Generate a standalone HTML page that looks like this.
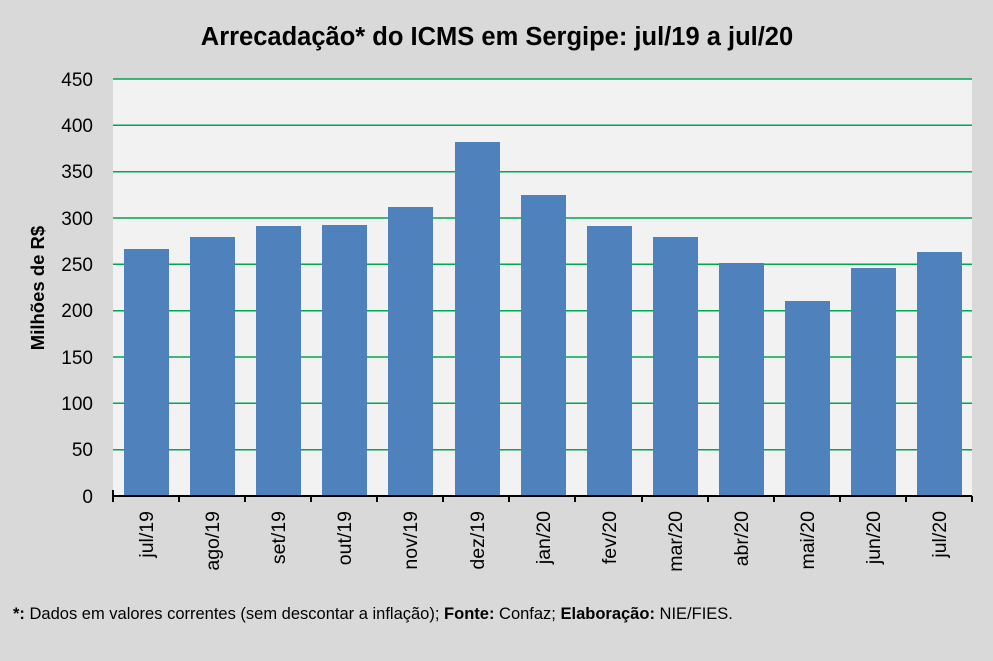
<!DOCTYPE html>
<html><head><meta charset="utf-8"><style>
html,body{margin:0;padding:0;background:#d9d9d9}
svg{display:block;font-family:"Liberation Sans",sans-serif}
</style></head><body>
<svg width="993" height="661" viewBox="0 0 993 661">
<rect width="993" height="661" fill="#d9d9d9"/>
<text x="497" y="45" text-anchor="middle" font-size="25.5" font-weight="bold" fill="#000">Arrecadação* do ICMS em Sergipe: jul/19 a jul/20</text>
<rect x="113" y="79" width="859" height="417" fill="#f2f2f2"/>
<g stroke="#00a650" stroke-width="1.5">
<line x1="113" x2="972" y1="79" y2="79"/>
<line x1="113" x2="972" y1="125.3" y2="125.3"/>
<line x1="113" x2="972" y1="171.7" y2="171.7"/>
<line x1="113" x2="972" y1="218" y2="218"/>
<line x1="113" x2="972" y1="264.3" y2="264.3"/>
<line x1="113" x2="972" y1="310.7" y2="310.7"/>
<line x1="113" x2="972" y1="357" y2="357"/>
<line x1="113" x2="972" y1="403.3" y2="403.3"/>
<line x1="113" x2="972" y1="449.7" y2="449.7"/>
</g>
<g font-size="19" text-anchor="end" fill="#000">
<text x="93" y="86">450</text><text x="93" y="132">400</text><text x="93" y="178">350</text>
<text x="93" y="225">300</text><text x="93" y="271">250</text><text x="93" y="317">200</text>
<text x="93" y="364">150</text><text x="93" y="410">100</text><text x="93" y="456">50</text>
<text x="93" y="503">0</text>
</g>
<text transform="translate(44,288) rotate(-90)" text-anchor="middle" font-size="18.5" font-weight="bold">Milhões de R$</text>
<g fill="#4f81bd">
<rect x="124" y="249" width="45" height="247"/>
<rect x="190" y="237" width="45" height="259"/>
<rect x="256" y="226" width="45" height="270"/>
<rect x="322" y="225" width="45" height="271"/>
<rect x="388" y="207" width="45" height="289"/>
<rect x="455" y="142" width="45" height="354"/>
<rect x="521" y="195" width="45" height="301"/>
<rect x="587" y="226" width="45" height="270"/>
<rect x="653" y="237" width="45" height="259"/>
<rect x="719" y="263" width="45" height="233"/>
<rect x="785" y="301" width="45" height="195"/>
<rect x="851" y="268" width="45" height="228"/>
<rect x="917" y="252" width="45" height="244"/>
</g>
<g stroke="#000" stroke-width="2">
<line x1="112" x2="972" y1="496" y2="496"/>
<line x1="113" x2="113" y1="490" y2="502"/><line x1="179" x2="179" y1="496" y2="502"/>
<line x1="245" x2="245" y1="496" y2="502"/><line x1="311" x2="311" y1="496" y2="502"/>
<line x1="377" x2="377" y1="496" y2="502"/><line x1="443" x2="443" y1="496" y2="502"/>
<line x1="509" x2="509" y1="496" y2="502"/><line x1="575" x2="575" y1="496" y2="502"/>
<line x1="642" x2="642" y1="496" y2="502"/><line x1="708" x2="708" y1="496" y2="502"/>
<line x1="774" x2="774" y1="496" y2="502"/><line x1="840" x2="840" y1="496" y2="502"/>
<line x1="906" x2="906" y1="496" y2="502"/><line x1="972" x2="972" y1="496" y2="502"/>
</g>
<g font-size="19.5" text-anchor="end" fill="#000">
<text transform="translate(153,511) rotate(-90)">jul/19</text>
<text transform="translate(219,511) rotate(-90)">ago/19</text>
<text transform="translate(285,511) rotate(-90)">set/19</text>
<text transform="translate(351,511) rotate(-90)">out/19</text>
<text transform="translate(417,511) rotate(-90)">nov/19</text>
<text transform="translate(484,511) rotate(-90)">dez/19</text>
<text transform="translate(550,511) rotate(-90)">jan/20</text>
<text transform="translate(616,511) rotate(-90)">fev/20</text>
<text transform="translate(682,511) rotate(-90)">mar/20</text>
<text transform="translate(748,511) rotate(-90)">abr/20</text>
<text transform="translate(814,511) rotate(-90)">mai/20</text>
<text transform="translate(880,511) rotate(-90)">jun/20</text>
<text transform="translate(946,511) rotate(-90)">jul/20</text>
</g>
<text x="13" y="619" font-size="16.5" fill="#000"><tspan font-weight="bold">*:</tspan> Dados em valores correntes (sem descontar a inflação); <tspan font-weight="bold">Fonte:</tspan> Confaz; <tspan font-weight="bold">Elaboração:</tspan> NIE/FIES.</text>
</svg>
</body></html>
